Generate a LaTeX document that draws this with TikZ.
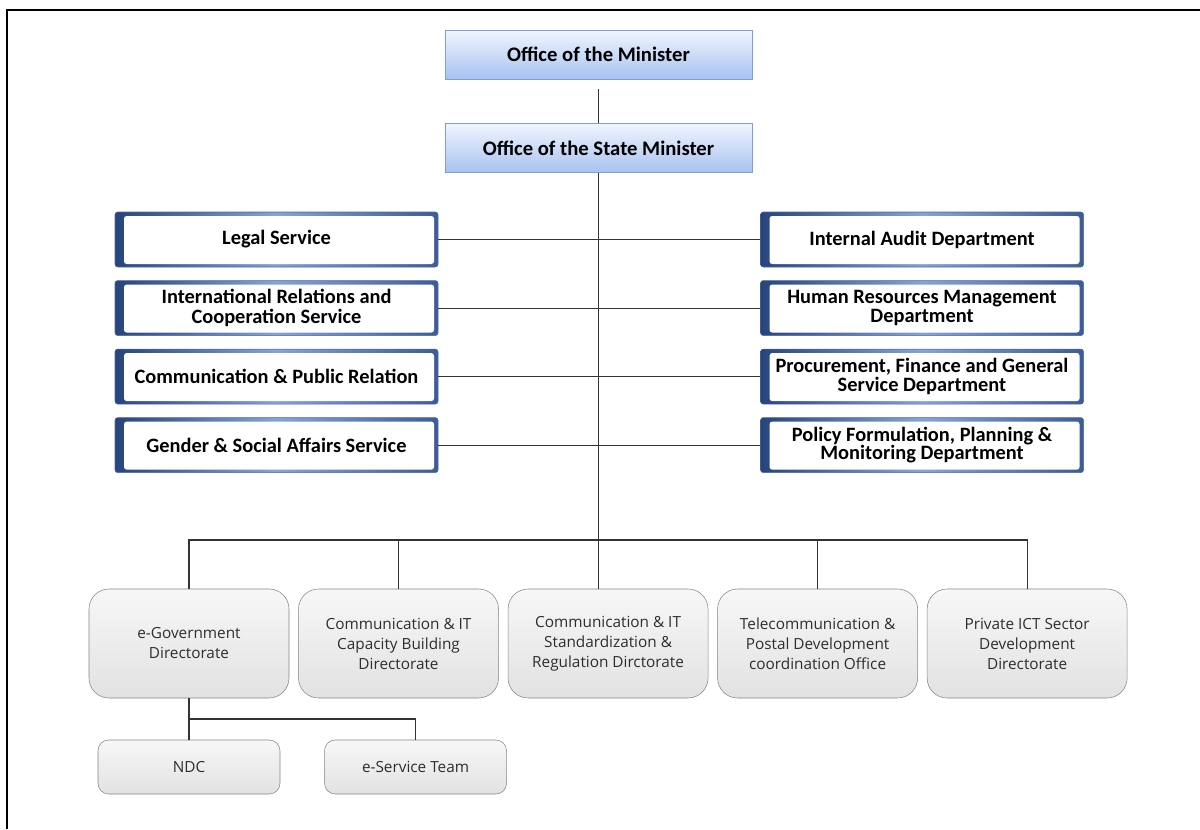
\documentclass[tikz,border=0pt]{standalone}
\usepackage{fontspec}
\setmainfont{Open Sans}
\newfontfamily\headfont{Carlito}
\usetikzlibrary{positioning, calc}

\definecolor{toplight}{HTML}{F0F5FE}
\definecolor{topdark}{HTML}{A8C2F0}
\definecolor{topline}{HTML}{7E9ED6}
\definecolor{svcdark}{HTML}{27457C}
\definecolor{svcmid}{HTML}{86A3D8}
\definecolor{svcright}{HTML}{3C5C98}
\definecolor{svcline}{HTML}{4A68A0}
\definecolor{dirlight}{HTML}{F7F7F7}
\definecolor{dirdark}{HTML}{E2E2E2}
\definecolor{dirline}{HTML}{858585}
\definecolor{dirtext}{HTML}{2E2E2E}

\begin{document}
\begin{tikzpicture}[
    x=0.75pt, y=-0.75pt,
    node distance=9.75pt and 6.75pt,
    topbox/.style={rectangle, draw=topline, top color=toplight, bottom color=topdark, minimum width=230.25pt, minimum height=36.75pt, font=\headfont\bfseries\fontsize{15.5}{17}\selectfont},
    svcbox/.style={rectangle, rounded corners=2pt, draw=svcline, left color=svcdark, right color=svcright, middle color=svcmid, minimum width=242.25pt, minimum height=41.25pt, align=center, font=\headfont\bfseries\fontsize{15.3}{15}\selectfont,
        path picture={\fill[white, rounded corners=2pt] ($(path picture bounding box.south west)+(6.75pt,2.25pt)$) rectangle ($(path picture bounding box.north east)+(-3pt,-3pt)$);}},
    tight/.style={font=\headfont\bfseries\fontsize{15.3}{14}\selectfont},
    dirbox/.style={rectangle, rounded corners=15pt, draw=dirline, top color=dirlight, bottom color=dirdark, minimum width=150pt, minimum height=81.75pt, align=center, text=dirtext, font=\fontsize{11.5}{15}\selectfont},
    subbox/.style={dirbox, rounded corners=8pt, minimum width=136.5pt, minimum height=40.5pt},
    conn/.style={draw=black!80, line width=0.8pt}
]
\useasboundingbox (0,0) rectangle (1200,829);
\draw[line width=0.9pt] (7,829) -- (7,10) -- (1200,10);

% top offices
\node[topbox] (minister) at (598.5,54.5) {Office of the Minister};
\node[topbox, below=33pt of minister] (state) {Office of the State Minister};

% services (left)
\node[svcbox] (legal) at (276.5,239.5) {Legal Service};
\node[svcbox, below=of legal] (intrel) {International Relations and\\Cooperation Service};
\node[svcbox, below=of intrel] (comm) {Communication \& Public Relation};
\node[svcbox, below=of comm] (gender) {Gender \& Social Affairs Service};

% departments (right)
\node[svcbox, right=241.5pt of legal] (audit) {Internal Audit Department};
\node[svcbox, tight, right=241.5pt of intrel] (hrm) {Human Resources Management\\Department};
\node[svcbox, tight, right=241.5pt of comm] (pfg) {Procurement, Finance and General\\Service Department};
\node[svcbox, tight, right=241.5pt of gender] (policy) {Policy Formulation, Planning \&\\Monitoring Department};

% directorates
\node[dirbox] (egov) at (189,643.5) {e-Government\\Directorate};
\node[dirbox, right=of egov] (capacity) {Communication \& IT\\Capacity Building\\Directorate};
\node[dirbox, right=of capacity] (standard) {Communication \& IT\\Standardization \&\\Regulation Dirctorate};
\node[dirbox, right=of standard] (postal) {Telecommunication \&\\Postal Development\\coordination Office};
\node[dirbox, right=of postal] (private) {Private ICT Sector\\Development\\Directorate};

\node[subbox] (ndc) at (189,767) {NDC};
\node[subbox, right=33pt of ndc] (eserv) {e-Service Team};

% connectors
\draw[conn, shorten <=7.5pt] (minister) -- (state);
\draw[conn] (state.south) -- (state.south |- standard.north);
\draw[conn] (legal) -- (audit);
\draw[conn] (intrel) -- (hrm);
\draw[conn] (comm) -- (pfg);
\draw[conn] (gender) -- (policy);

\coordinate (bus) at (598.5,540);
\draw[conn] (egov.north) |- (bus) -| (private.north);
\foreach \d in {capacity, postal}
    \draw[conn] (\d.north) -- (\d.north |- bus);

\coordinate (split) at ($(egov.south)!0.5!(ndc.north)$);
\draw[conn] (egov.south) -- (ndc.north);
\draw[conn] (split) -| (eserv.north);

\end{tikzpicture}
\end{document}
